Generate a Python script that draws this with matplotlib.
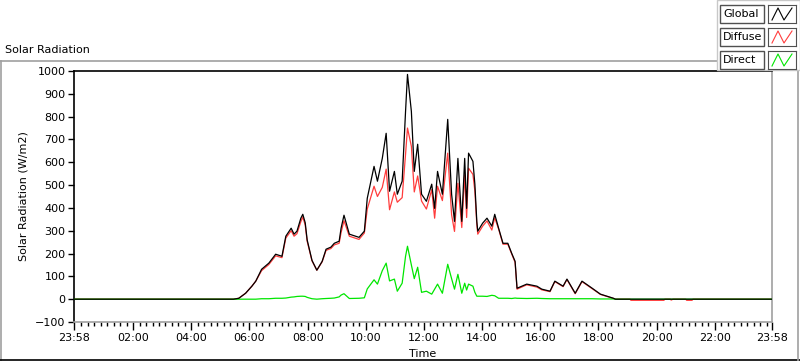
import matplotlib.pyplot as plt
from matplotlib.lines import Line2D
from matplotlib.patches import Rectangle

# time of day (first point is 23:58 of the previous day)
times = ["23:58", "05:27", "05:38", "05:52", "06:05", "06:13", "06:25", "06:40", "06:54", "07:07",
         "07:15", "07:26", "07:32", "07:38", "07:46", "07:50", "07:55", "07:59", "08:09", "08:19",
         "08:30", "08:38", "08:48", "08:55", "09:05", "09:09", "09:15", "09:26", "09:46", "09:57",
         "10:03", "10:17", "10:24", "10:34", "10:42", "10:49", "10:59", "11:05", "11:15", "11:22",
         "11:26", "11:34", "11:40", "11:47", "11:55", "12:05", "12:16", "12:22", "12:28", "12:38",
         "12:49", "12:57", "13:03", "13:10", "13:18", "13:24", "13:28", "13:32", "13:41", "13:45",
         "13:49", "13:51", "14:01", "14:10", "14:20", "14:26", "14:34", "14:43", "14:53", "15:01",
         "15:08", "15:12", "15:32", "15:53", "16:03", "16:20", "16:30", "16:47", "16:55", "17:12",
         "17:26", "17:47", "18:04", "18:31", "18:35", "19:05", "19:07", "20:15", "20:17", "20:28",
         "20:30", "20:34", "21:00", "21:02", "21:13", "21:15", "23:58"]

global_rad = [0, 0, 4, 26, 57, 79, 131, 158, 197, 188,
              276, 311, 285, 298, 355, 372, 335, 260, 170, 127,
              166, 219, 228, 245, 254, 311, 368, 285, 271, 298,
              442, 582, 517, 617, 727, 473, 560, 460, 517, 823,
              985, 823, 560, 679, 460, 429, 504, 398, 560, 460,
              788, 460, 341, 617, 341, 617, 398, 640, 604, 504,
              341, 298, 333, 355, 320, 372, 311, 245, 245, 201,
              166, 48, 66, 57, 44, 35, 79, 57, 88, 26,
              79, 48, 22, 4, 0, 0, 0, 0, 0, 0,
              0, 0, 0, 0, 0, 0, 0]

diffuse_rad = [0, 0, 4, 26, 57, 79, 125, 152, 190, 182,
               268, 300, 276, 287, 340, 360, 325, 254, 168, 127,
               164, 214, 222, 238, 245, 292, 344, 276, 262, 290,
               395, 495, 450, 490, 570, 392, 470, 425, 445, 635,
               750, 670, 470, 540, 430, 395, 480, 355, 495, 432,
               640, 370, 297, 508, 314, 545, 358, 574, 547, 474,
               328, 285, 320, 343, 303, 357, 307, 241, 241, 198,
               161, 44, 63, 53, 41, 33, 77, 55, 86, 24,
               77, 46, 21, 3, 0, 0, -5, -5, 0, 0,
               -4, 0, 0, -5, -5, 0, 0]

direct_rad = [0, 0, 0, 0, 0, 0, 2, 2, 4, 4,
              5, 9, 10, 12, 13, 13, 12, 8, 2, 0,
              2, 3, 4, 5, 10, 18, 24, 3, 4, 6,
              45, 85, 66, 125, 158, 80, 88, 35, 70, 188,
              232, 150, 90, 140, 30, 35, 22, 44, 66, 26,
              153, 90, 44, 109, 26, 70, 40, 66, 57, 30,
              13, 13, 13, 12, 17, 15, 4, 4, 4, 3,
              5, 4, 3, 4, 3, 2, 2, 2, 2, 2,
              2, 2, 1, 1, 0, 0, 0, 0, 0, 0,
              0, 0, 0, 0, 0, 0, 0]

tick_labels = ["23:58", "02:00", "04:00", "06:00", "08:00", "10:00", "12:00",
               "14:00", "16:00", "18:00", "20:00", "22:00", "23:58"]


def to_minutes(s):
    h, m = s.split(":")
    return int(h) * 60 + int(m)


t = [to_minutes(s) for s in times]
t[0] -= 1440  # the first point belongs to the previous day

major = [to_minutes(s) for s in tick_labels]
major[0] -= 1440

W, H = 800, 361
fig = plt.figure(figsize=(8, 3.61), dpi=100)
plt.rcParams['font.family'] = 'DejaVu Sans'

ax = fig.add_axes([74 / W, 1 - 322 / H, (772 - 74) / W, (322 - 71) / H])

ax.plot(t, diffuse_rad, color='#ff3c3c', lw=0.9, zorder=2)
ax.plot(t, direct_rad, color='#00e600', lw=0.9, zorder=3)
ax.plot(t, global_rad, color='black', lw=0.9, zorder=4)

ax.set_xlim(major[0], major[-1])
ax.set_ylim(-100, 1000)
ax.set_yticks(range(-100, 1001, 100))
ax.set_xticks(major)
ax.set_xticklabels(tick_labels)
minor = [k * 40 / 3 for k in range(1, 108) if k % 9 != 0]
ax.set_xticks(minor, minor=True)

ax.tick_params(axis='y', direction='out', length=4, width=1, labelsize=8, pad=2)
ax.tick_params(axis='x', which='major', direction='out', length=6, width=1, labelsize=8, pad=2)
ax.tick_params(axis='x', which='minor', direction='out', length=3, width=1)

for side in ['top', 'left']:
    ax.spines[side].set_color('black')
    ax.spines[side].set_linewidth(1.2)
for side in ['bottom', 'right']:
    ax.spines[side].set_color('#a0a0a0')
    ax.spines[side].set_linewidth(1.2)

ax.set_xlabel("Time", fontsize=8, labelpad=4)
ax.set_ylabel("Solar Radiation (W/m2)", fontsize=8, labelpad=5)

fig.text(5 / W, 1 - 50 / H, "Solar Radiation", fontsize=8, va='center', ha='left')

# outer panel frame
fig.add_artist(Line2D([0, 720 / W], [1 - 61 / H] * 2, color='#a0a0a0', lw=1.2))
fig.add_artist(Line2D([0.6 / W] * 2, [1 - 61 / H, 0], color='#a0a0a0', lw=1.2))
fig.add_artist(Line2D([0, 1], [1 - 360 / H] * 2, color='black', lw=1.2))
fig.add_artist(Line2D([798 / W] * 2, [1 - 70 / H, 0], color='#a0a0a0', lw=1.2))

# legend panel
fig.add_artist(Rectangle((717 / W, 1 - 70 / H), 83 / W, 70 / H, facecolor='white',
                         edgecolor='#c8c8c8', lw=1, zorder=5))
legend = [("Global", 'black'), ("Diffuse", '#ff3c3c'), ("Direct", '#00e600')]
for i, (name, color) in enumerate(legend):
    top = 5 + i * 23
    fig.add_artist(Rectangle((720 / W, 1 - (top + 18) / H), 44 / W, 18 / H, facecolor='white',
                             edgecolor='#505050', lw=1, zorder=6))
    fig.text(723 / W, 1 - (top + 9) / H, name, fontsize=8, va='center', ha='left', zorder=7)
    icon = fig.add_axes([768 / W, 1 - (top + 18) / H, 28 / W, 18 / H], zorder=7)
    icon.plot([0, 0.3, 0.6, 1], [0, 1, 0, 1], color=color, lw=0.8)
    icon.set_xlim(-0.2, 1.2)
    icon.set_ylim(-0.25, 1.25)
    icon.set_xticks([])
    icon.set_yticks([])
    for sp in icon.spines.values():
        sp.set_color('#505050')

fig.savefig("out.png", dpi=100)
